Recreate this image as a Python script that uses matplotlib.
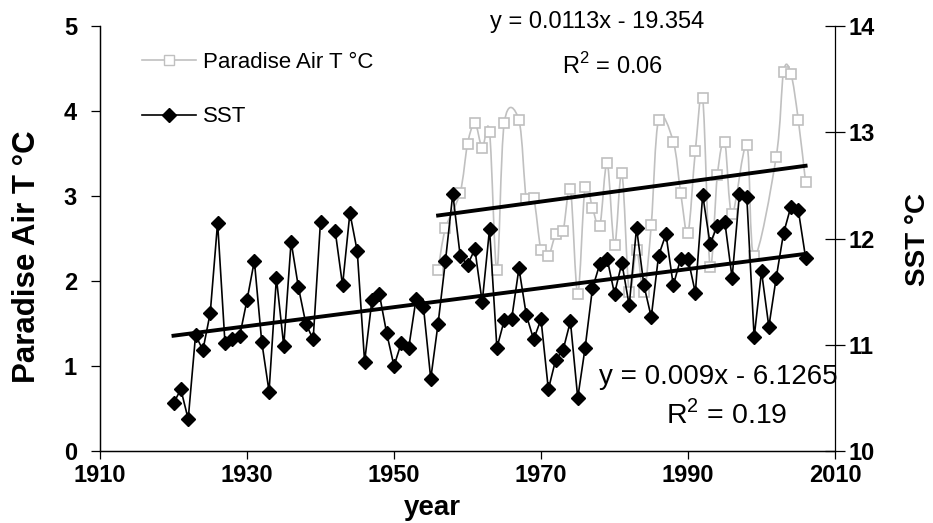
import numpy as np
import matplotlib
matplotlib.use("Agg")
import matplotlib.pyplot as plt
from matplotlib.path import Path
from matplotlib.patches import PathPatch
from matplotlib.lines import Line2D

plt.rcParams.update({
    "font.family": ["Liberation Sans", "DejaVu Sans"],
    "mathtext.fontset": "custom",
    "mathtext.rm": "Liberation Sans",
    "axes.linewidth": 0.9,
    "axes.edgecolor": "black",
})

GREY = "#c0c0c0"
W, H = 933, 523

# ── data ──────────────────────────────────────────────────
sst_year = [1920, 1921, 1922, 1923, 1924, 1925, 1926, 1927, 1928, 1929,
            1930, 1931, 1932, 1933, 1934, 1935, 1936, 1937, 1938, 1939,
            1940, 1941, 1942, 1943, 1944, 1945, 1946, 1947, 1948, 1949,
            1950, 1951, 1952, 1953, 1954, 1955, 1956, 1957, 1958, 1959,
            1960, 1961, 1962, 1963, 1964, 1965, 1966, 1967, 1968, 1969,
            1970, 1971, 1972, 1973, 1974, 1975, 1976, 1977, 1978, 1979,
            1980, 1981, 1982, 1983, 1984, 1985, 1986, 1987, 1988, 1989,
            1990, 1991, 1992, 1993, 1994, 1995, 1996, 1997, 1998, 1999,
            2000, 2001, 2002, 2003, 2004, 2005, 2006]
sst_c = [10.45, 10.58, 10.30, 11.09, 10.95, 11.30, 12.15, 11.02, 11.05, 11.08,
         11.42, 11.79, 11.03, 10.56, 11.63, 10.99, 11.97, 11.54, 11.20, 11.05,
         12.16, np.nan, 12.07, 11.56, 12.24, 11.88, 10.84, 11.42, 11.48, 11.11,
         10.80, 11.02, 10.97, 11.43, 11.36, 10.68, 11.20, 11.79, 12.42, 11.84,
         11.75, 11.90, 11.40, 12.09, 10.97, 11.23, 11.24, 11.72, 11.28, 11.05,
         11.24, 10.58, 10.86, 10.95, 11.22, 10.50, 10.97, 11.53, 11.76, 11.81,
         11.48, 11.77, 11.37, 12.10, 11.56, 11.26, 11.84, 12.04, 11.56, 11.81,
         11.81, 11.49, 12.41, 11.95, 12.12, 12.16, 11.63, 12.42, 12.39, 11.07,
         11.69, 11.17, 11.63, 12.05, 12.30, 12.27, 11.82]

air_year = [1956, 1957, 1959, 1960, 1961, 1962, 1963, 1964, 1965, 1967,
            1968, 1969, 1970, 1971, 1972, 1973, 1974, 1975, 1976, 1977,
            1978, 1979, 1980, 1981, 1982, 1983, 1984, 1985, 1986, 1988,
            1989, 1990, 1991, 1992, 1993, 1994, 1995, 1996, 1998, 1999,
            2002, 2003, 2004, 2005, 2006]
air_t = [2.13, 2.62, 3.04, 3.61, 3.86, 3.57, 3.75, 2.13, 3.86, 3.89,
         2.97, 2.98, 2.36, 2.29, 2.55, 2.59, 3.08, 1.85, 3.11, 2.86,
         2.65, 3.39, 2.42, 3.27, 1.87, 2.36, 1.87, 2.66, 3.90, 3.64,
         3.04, 2.57, 3.53, 4.15, 2.17, 3.25, 3.63, 2.79, 3.60, 2.29,
         3.46, 4.46, 4.44, 3.90, 3.16]

air_eq, air_r2 = "y = 0.0113x - 19.354", "R$^2$ = 0.06"
sst_eq, sst_r2 = "y = 0.009x - 6.1265", "R$^2$ = 0.19"


def smooth_path(xs, ys):
    # Excel-style smoothed line: cubic Bezier segments (Catmull-Rom tangents)
    pts = np.column_stack([xs, ys]).astype(float)
    n = len(pts)
    verts = [pts[0]]
    codes = [Path.MOVETO]
    for i in range(n - 1):
        p0 = pts[max(i - 1, 0)]
        p1, p2 = pts[i], pts[i + 1]
        p3 = pts[min(i + 2, n - 1)]
        verts += [p1 + (p2 - p0) / 6, p2 - (p3 - p1) / 6, p2]
        codes += [Path.CURVE4] * 3
    return Path(verts, codes)


def px(x, y):
    # pixel position in the 933x523 picture -> figure fraction
    return x / W, 1 - y / H


fig = plt.figure(figsize=(W / 100, H / 100), dpi=100)
ax = fig.add_axes([100 / W, 1 - 451 / H, 735 / W, 425 / H])
ax2 = ax.twinx()

# Paradise air temperature (left axis)
ax.add_patch(PathPatch(smooth_path(air_year, air_t), fill=False,
                       edgecolor=GREY, linewidth=1.2, zorder=2))
ax.plot(air_year, air_t, ls="none", marker="s", ms=6.5, mfc="white",
        mec=GREY, mew=1.2, zorder=3)
a_fit = np.polyfit(air_year, air_t, 1)
xa = np.array([min(air_year), max(air_year)])
ax.plot(xa, np.polyval(a_fit, xa), color="black", lw=2.8, zorder=4)

# SST (right axis)
sy = np.array(sst_year, dtype=float)
sv = np.array(sst_c, dtype=float)
ok = ~np.isnan(sv)
ax2.plot(sy, sv, color="black", lw=1.2, marker="D", ms=7.5, zorder=3)
s_fit = np.polyfit(sy[ok], sv[ok], 1)
xs = np.array([sy[ok].min(), sy[ok].max()])
ax2.plot(xs, np.polyval(s_fit, xs), color="black", lw=2.8, zorder=4)

# axes
ax.set_xlim(1910, 2010)
ax.set_ylim(0, 5)
ax2.set_ylim(10, 14)
ax.set_xticks([1910, 1930, 1950, 1970, 1990, 2010])
ax.set_yticks([0, 1, 2, 3, 4, 5])
ax2.set_yticks([10, 11, 12, 13, 14])
for a in (ax, ax2):
    a.spines["top"].set_visible(False)
ax.spines["right"].set_visible(False)
ax.tick_params(axis="x", direction="out", length=6, width=0.9, pad=3,
               labelsize=17)
ax.tick_params(axis="y", direction="out", length=6.5, width=0.9, pad=10,
               labelsize=17)
ax2.tick_params(axis="y", direction="inout", length=15, width=0.9, pad=2,
                labelsize=17)
for lab in ax.get_xticklabels() + ax.get_yticklabels() + ax2.get_yticklabels():
    lab.set_fontweight("bold")

# axis titles
fig.text(*px(27, 257), "Paradise Air T °C", fontsize=22.5, fontweight="bold",
         rotation=90, ha="center", va="center")
fig.text(*px(918, 240), "SST °C", fontsize=20, fontweight="bold",
         rotation=90, ha="center", va="center")
fig.text(*px(432, 515), "year", fontsize=20, fontweight="bold",
         ha="center", va="baseline")

# trend equations
fig.text(*px(597, 22), air_eq, fontsize=17, ha="center", va="center")
fig.text(*px(613, 66), air_r2, fontsize=17, ha="center", va="center")
fig.text(*px(718, 377), sst_eq, fontsize=20, ha="center", va="center")
fig.text(*px(727, 414), sst_r2, fontsize=20.5, ha="center", va="center")

handles = [
    Line2D([], [], color=GREY, lw=1.2, marker="s", ms=6.5, mfc="white",
           mec=GREY),
    Line2D([], [], color="black", lw=1.2, marker="D", ms=7.5),
]
ax2.legend(handles, ["Paradise Air T °C", "SST"], loc="upper left",
           bbox_to_anchor=(0.03, 0.986), frameon=False, fontsize=16,
           handlelength=2.45, handletextpad=0.3, labelspacing=1.5)

fig.savefig("out.png", dpi=100, facecolor="white")
